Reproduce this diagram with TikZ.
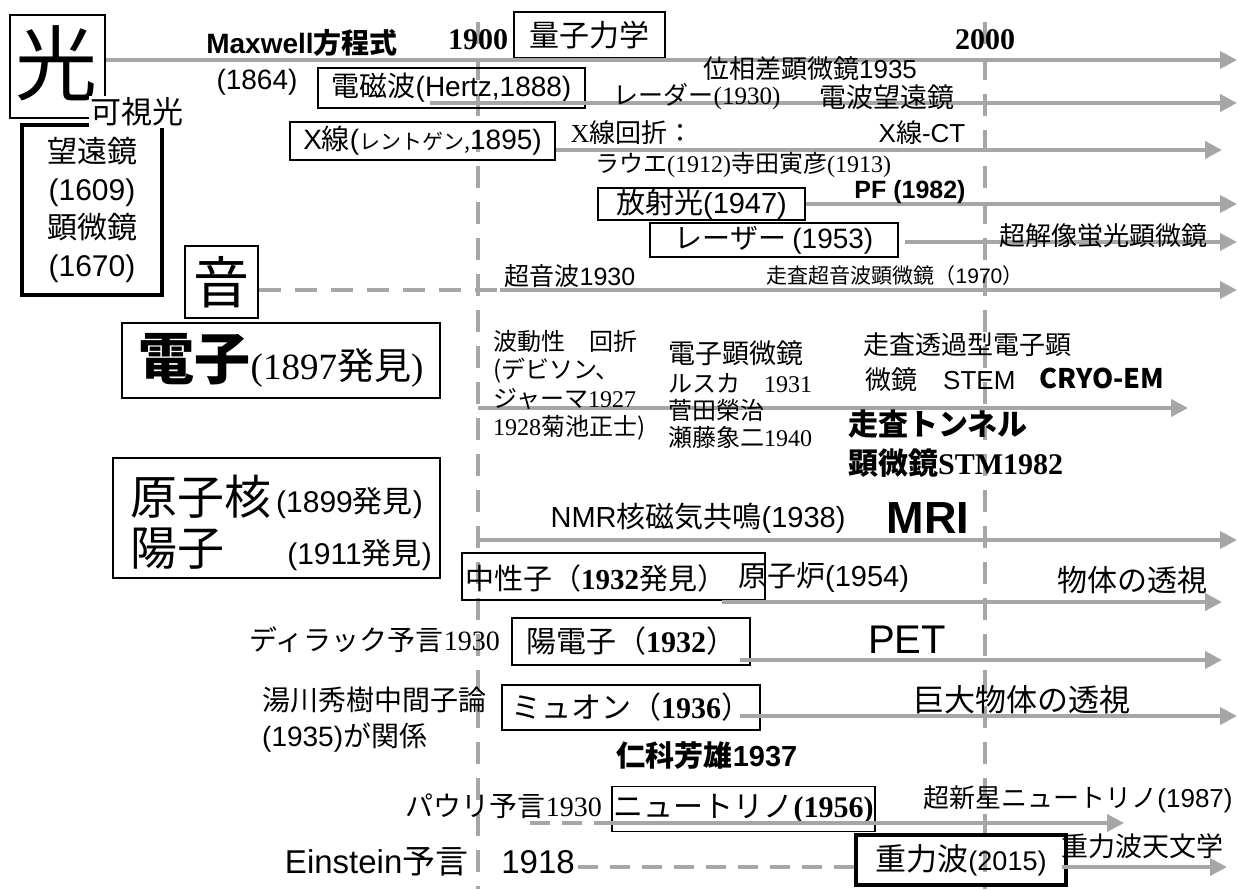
\documentclass[tikz,border=0pt]{standalone}
\usepackage{fontspec}
\setmainfont{Noto Sans CJK JP}
\newfontfamily\ser{Liberation Serif}
\newfontfamily\ls{Liberation Sans}
\usetikzlibrary{arrows.meta}
\definecolor{lg}{RGB}{166,166,166}
\newcommand\fsz[1]{\fontsize{#1}{#1}\selectfont}
\tikzset{
  arr/.style={draw=lg, line width=4pt, -{Triangle[length=17pt,width=17pt]}},
  dsh/.style={draw=lg, line width=4pt, dash pattern=on 22pt off 14pt},
  bx/.style={draw, line width=1.2pt, inner sep=0pt},
  tbx/.style={draw, line width=3.5pt, inner sep=0pt},
  lbl/.style={inner sep=0pt},
}
\begin{document}
\begin{tikzpicture}[x=1pt,y=-1pt]
\useasboundingbox (0,0) rectangle (1239,889);
% vertical time lines
\coordinate (v1t) at (478,22); \coordinate (v1b) at (478,889);
\coordinate (v2t) at (985,22); \coordinate (v2b) at (985,889);
\draw[dsh] (v1t) -- (v1b);
\draw[dsh] (v2t) -- (v2b);

% boxes
\node[bx, minimum width=95pt, minimum height=103pt] (hikari) at (57.5,66.5) {};
\node[lbl] (hikarit) at (57,63) {\fsz{82}光};
\node[bx, minimum width=151pt, minimum height=46pt] (ryoshi) at (589.5,35) {\fsz{30}量子力学};
\node[bx, minimum width=267pt, minimum height=40pt] (denji) at (451.5,88) {\fsz{28}電磁波{\ls(Hertz,1888)}};
\node[bx, minimum width=265pt, minimum height=38pt] (xsen) at (422.5,141) {\fsz{28}{\ls X}線{\ls(}\fsz{21}レントゲン,\fsz{28}{\ls 1895)}};
\node[draw, line width=2.5pt, inner sep=0pt, minimum width=207pt, minimum height=32pt] (hosha) at (701.5,204) {\fsz{29}放射光{\ls(1947)}};
\node[bx, minimum width=248pt, minimum height=34pt] (laser) at (774,240) {\fsz{28}レーザー {\ls(1953)}};
\node[draw, line width=4pt, inner sep=0pt, minimum width=140pt, minimum height=170pt, align=center, font=\fontsize{30}{38}\selectfont] (bokyo) at (92,210) {望遠鏡\\{\ls(1609)}\\顕微鏡\\{\ls(1670)}};
\node[bx, minimum width=73pt, minimum height=72pt] (oto) at (221.5,282) {\fsz{56}音};
\node[bx, minimum width=318pt, minimum height=75pt] (denshi) at (281,360.5) {{\fsz{56}\bfseries 電子}{\fsz{37}{\ser(1897}発見{\ser)}}};
\node[bx, minimum width=327pt, minimum height=120pt] (genshi) at (276.5,518) {};
\node[bx, minimum width=303pt, minimum height=47pt] (chubox) at (613.5,576.5) {};
\node[bx, minimum width=238pt, minimum height=47pt] (yoden) at (631,641.5) {\fsz{30}陽電子（{\ser\bfseries 1932}）};
\node[bx, minimum width=258pt, minimum height=45pt] (muon) at (631,707.5) {\fsz{30}ミュオン（{\ser\bfseries 1936}）};
\node[bx, minimum width=263pt, minimum height=45pt] (neu) at (743.5,809) {\fsz{30}ニュートリノ{\ser\bfseries(1956)}};
\node[tbx, minimum width=210pt, minimum height=50pt] (jubox) at (961,860) {{\fsz{31}重力波}{\fsz{27}\ls(2015)}};

% free ends
\coordinate (a1e) at (1237,60);
\coordinate (a2s) at (430,103); \coordinate (a2e) at (1237,103);
\coordinate (a3e) at (1222,150);
\coordinate (a4e) at (1237,204);
\coordinate (a5s) at (905,242); \coordinate (a5e) at (1237,242);
\coordinate (o1) at (500,290); \coordinate (o2) at (1237,290);
\coordinate (e1) at (478,408); \coordinate (e2) at (1188,408);
\coordinate (n1) at (478,540); \coordinate (n2) at (1237,540);
\coordinate (c1) at (722,602); \coordinate (c2) at (1222,602);
\coordinate (y1) at (740,660); \coordinate (y2) at (1222,660);
\coordinate (m1) at (740,716); \coordinate (m2) at (1237,716);
\coordinate (p1) at (530,823); \coordinate (p2) at (1124,823);
\coordinate (g1) at (1062,867); \coordinate (g2) at (1227,867);

% connectors
\draw[arr] (hikari.east |- a1e) -- (a1e);
\draw[arr] (a2s) -- (a2e);
\draw[arr] (xsen.east |- a3e) -- (a3e);
\draw[arr] (hosha.east) -- (a4e);
\draw[arr] (a5s) -- (a5e);
\draw[dsh] (oto.east |- o1) -- (o1);
\draw[arr] (o1) -- (o2);
\draw[arr] (e1) -- (e2);
\draw[arr] (n1) -- (n2);
\draw[arr] (c1) -- (c2);
\draw[arr] (y1) -- (y2);
\draw[arr] (m1) -- (m2);
\draw[dsh, dash pattern=on 20pt off 12pt] (p1) -- (neu.west |- p1);
\draw[arr] (neu.west |- p1) -- (p2);
\draw[arr] (g1) -- (g2);

% labels
\node[lbl, fill=white, inner sep=2pt] (kashi) at (137,112) {\fsz{31}可視光};
\node[lbl] (maxw) at (302,43) {\fsz{28}\bfseries{\ls Maxwell}方程式};
\node[lbl] (y1864) at (257,82) {\fsz{28}\ls(1864)};
\node[lbl] (t1900) at (478,40) {\ser\bfseries\fsz{30}1900};
\node[lbl] (t2000) at (985,40) {\ser\bfseries\fsz{30}2000};
\node[lbl] (isou) at (810,69) {\fsz{26}位相差顕微鏡{\ls 1935}};
\node[lbl] (radar) at (697,97) {\fsz{25}レーダー{\ser(1930)}};
\node[lbl] (denpa) at (887,97) {\fsz{27}電波望遠鏡};
\node[lbl] (xkai) at (632,133) {\fsz{26}{\ser X}線回折：};
\node[lbl] (xct) at (922,133) {\fsz{26}{\ls X}線{\ls -CT}};
\node[lbl] (laue) at (743,165) {\fsz{24}ラウエ{\ser(1912)}寺田寅彦{\ser(1913)}};
\node[lbl] (pf) at (910,192) {\fsz{25}\ls\bfseries PF (1982)};
\node[lbl] (chokai) at (1103,236) {\fsz{26}超解像蛍光顕微鏡};
\node[lbl] (chopa) at (570,276) {\fsz{25}超音波{\ls 1930}};
\node[lbl] (sosa) at (895,276) {\fsz{21}走査超音波顕微鏡（{\ls 1970}）};
\node[lbl, anchor=north west, align=left, font=\fontsize{24}{28.5}\selectfont] (hado) at (493,330) {波動性　回折\\(デビソン、\\ジャーマ{\ser 1927}\\{\ser 1928}菊池正士)};
\node[lbl, anchor=west] (em1) at (668,353) {\fsz{27}電子顕微鏡};
\node[lbl, anchor=west] (em2) at (668,383) {\fsz{24}ルスカ　{\ser 1931}};
\node[lbl, anchor=west] (em3) at (668,410) {\fsz{24}菅田榮治};
\node[lbl, anchor=west] (em4) at (668,437) {\fsz{24}瀬藤象二{\ser 1940}};
\node[lbl, anchor=west] (stem1) at (863,345) {\fsz{26}走査透過型電子顕};
\node[lbl, anchor=west] (stem2) at (865,380) {\fsz{26}微鏡　{\ls STEM}};
\node[lbl] (cryo) at (1102,378) {\fsz{27}\bfseries CRYO-EM};
\node[lbl, anchor=west] (stm1) at (848,424) {\fsz{30}\bfseries 走査トンネル};
\node[lbl, anchor=west] (stm2) at (848,463) {\fsz{30}\bfseries 顕微鏡{\ser STM1982}};
\node[lbl, anchor=west] (gk1) at (130,497) {\fsz{47}原子核};
\node[lbl, anchor=west] (gk2) at (276,503) {\fsz{30}{\ls(1899}発見{\ls)}};
\node[lbl, anchor=west] (yo1) at (130,549) {\fsz{47}陽子};
\node[lbl, anchor=east] (yo2) at (432,555) {\fsz{30}{\ls(1911}発見{\ls)}};
\node[lbl] (nmr) at (698,518) {\fsz{29}{\ls NMR}核磁気共鳴{\ls(1938)}};
\node[lbl] (mri) at (928,518) {\fsz{45}\ls\bfseries MRI};
\node[lbl, anchor=west] (chu) at (465,578) {\fsz{29}中性子（{\ser\bfseries 1932}発見）};
\node[lbl, anchor=west] (genro) at (738,578) {\fsz{29}原子炉{\ls(1954)}};
\node[lbl] (buttai) at (1132,580) {\fsz{30}物体の透視};
\node[lbl, anchor=east] (dirac) at (500,640) {\fsz{28}ディラック予言{\ser 1930}};
\node[lbl] (pet) at (907,640) {\fsz{40}\ls PET};
\node[lbl, anchor=west] (yuk1) at (262,700) {\fsz{28}湯川秀樹中間子論};
\node[lbl, anchor=west] (yuk2) at (262,738) {\fsz{28}{\ls(1935)}が関係};
\node[lbl] (kyodai) at (1022,700) {\fsz{31}巨大物体の透視};
\node[lbl] (nishina) at (707,756) {\fsz{29}\bfseries 仁科芳雄{\ls 1937}};
\node[lbl, anchor=east] (pauli) at (602,806) {\fsz{28}パウリ予言{\ser 1930}};
\node[lbl] (sn) at (1078,799) {\fsz{26}超新星ニュートリノ{\ls(1987)}};
\node[lbl, anchor=east] (einst) at (575,862) {\fsz{33}{\ls Einstein}予言　{\ls 1918}};
\node[lbl] (jutenmon) at (1142,846) {\fsz{27}重力波天文学};
\coordinate (g0) at (578,867);
\draw[dsh, dash pattern=on 20pt off 12pt] (g0) -- (jubox.west |- g0);
\end{tikzpicture}
\end{document}
